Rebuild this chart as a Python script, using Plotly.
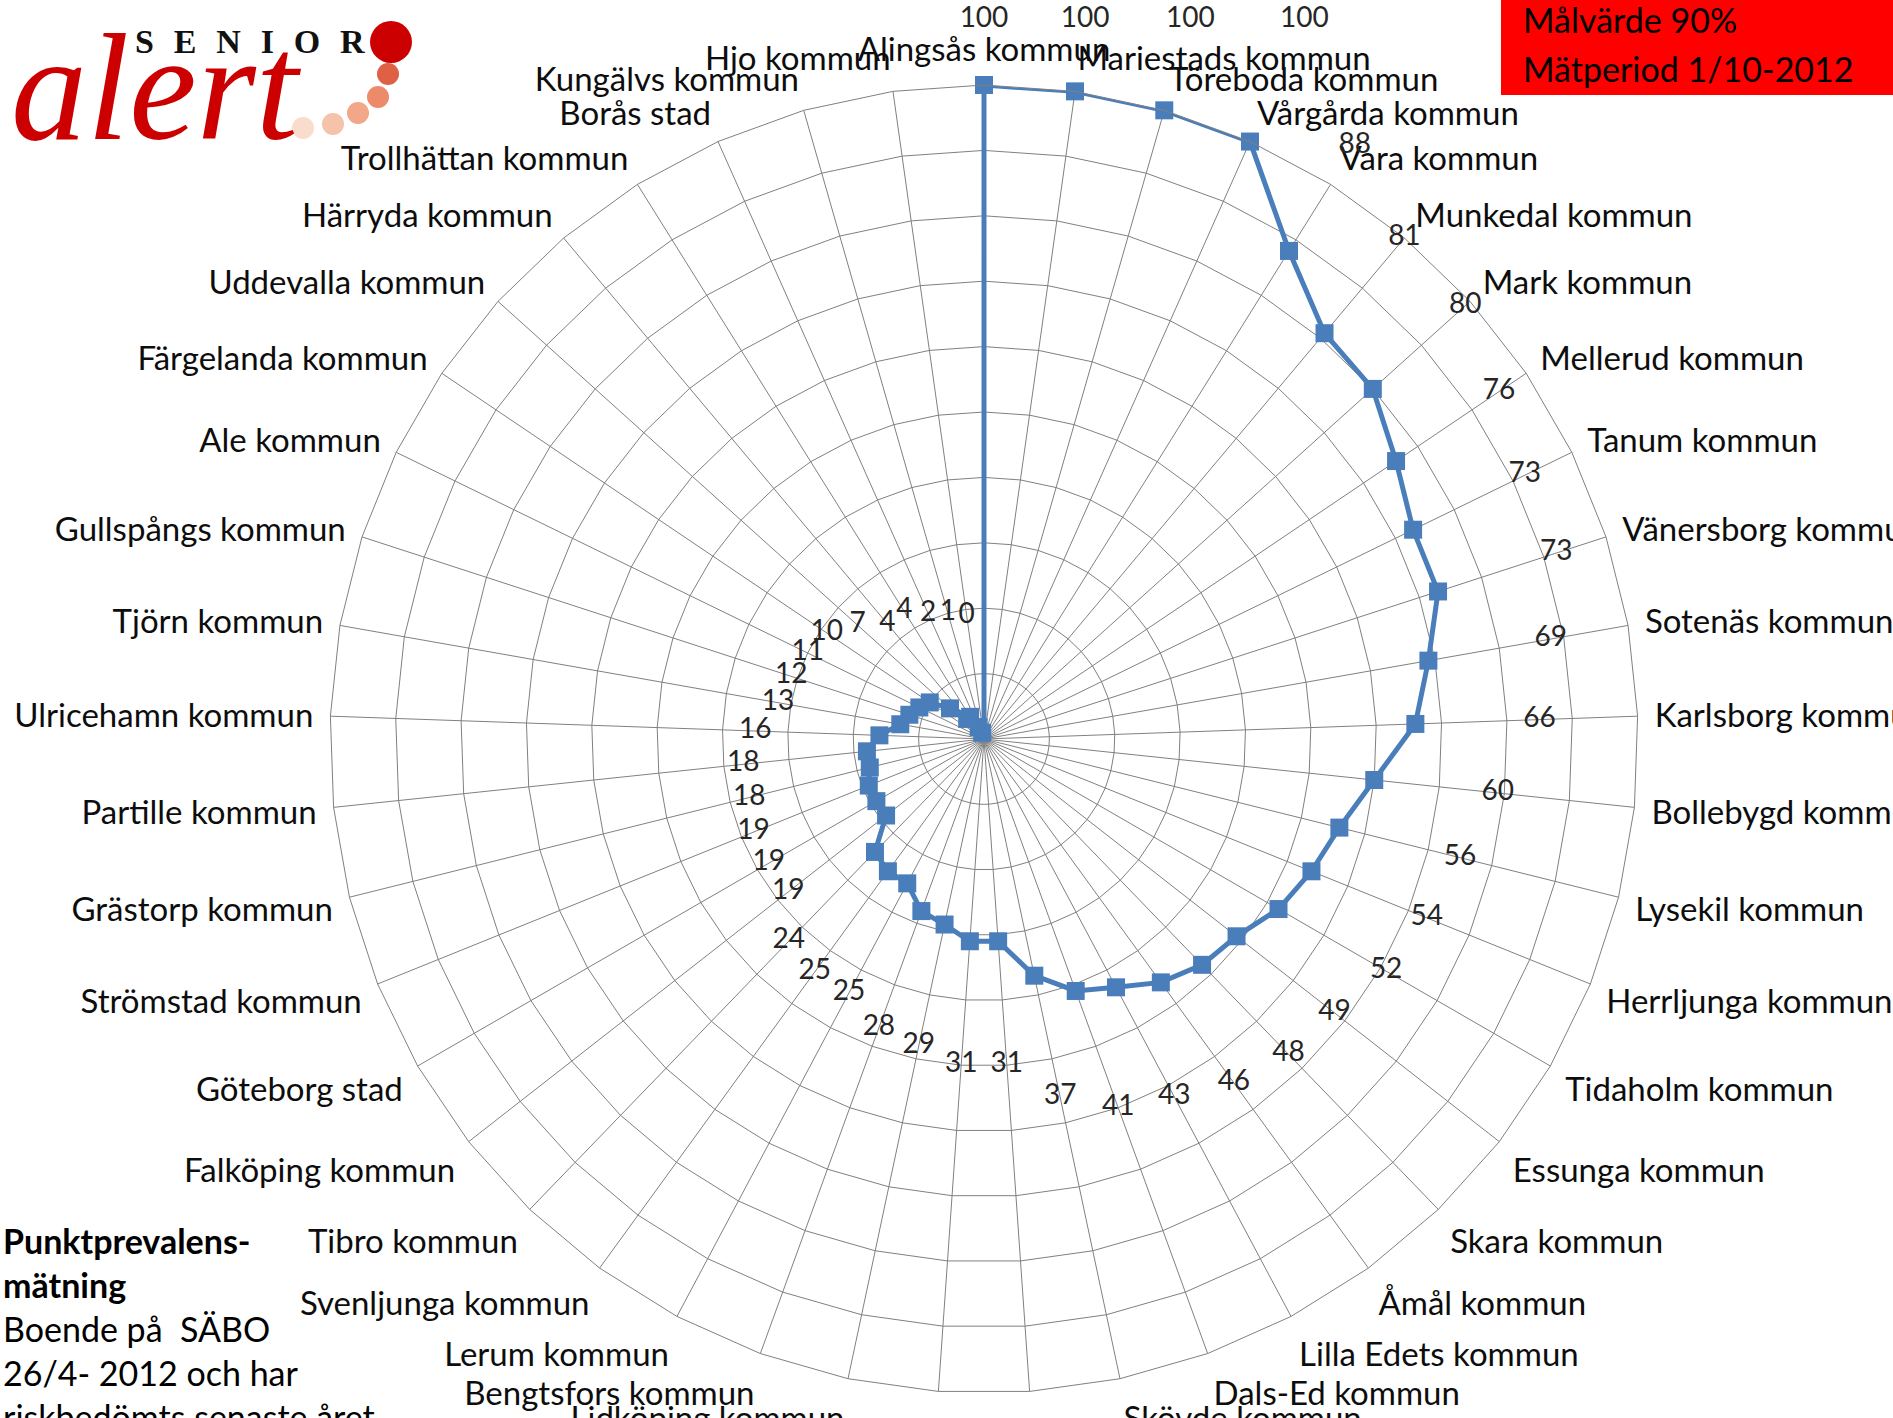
import math
import plotly.graph_objects as go

# kommuner medurs från toppen; två kategorier längst ned syns inte i bilden
KOMMUNER = [
    'Alingsås kommun', 'Mariestads kommun', 'Töreboda kommun', 'Vårgårda kommun',
    'Vara kommun', 'Munkedal kommun', 'Mark kommun', 'Mellerud kommun',
    'Tanum kommun', 'Vänersborg kommun', 'Sotenäs kommun', 'Karlsborg kommun',
    'Bollebygd kommun', 'Lysekil kommun', 'Herrljunga kommun', 'Tidaholm kommun',
    'Essunga kommun', 'Skara kommun', 'Åmål kommun', 'Lilla Edets kommun',
    'Dals-Ed kommun', 'Skövde kommun', ' ', '  ', 'Lidköping kommun',
    'Bengtsfors kommun', 'Lerum kommun', 'Svenljunga kommun', 'Tibro kommun',
    'Falköping kommun', 'Göteborg stad', 'Strömstad kommun', 'Grästorp kommun',
    'Partille kommun', 'Ulricehamn kommun', 'Tjörn kommun', 'Gullspångs kommun',
    'Ale kommun', 'Färgelanda kommun', 'Uddevalla kommun', 'Härryda kommun',
    'Trollhättan kommun', 'Borås stad', 'Kungälvs kommun', 'Hjo kommun',
]

ANDEL = [100, 100, 100, 100, 88, 81, 80, 76, 73, 73, 69, 66, 60, 56, 54, 52,
         49, 48, 46, 43, 41, 37, 31, 31, 29, 28, 25, 25, 24, 19, 19, 19, 18, 18,
         16, 13, 12, 11, 10, 7, 4, 4, 2, 1, 0]

MALVARDE_TEXT = ['Målvärde 90%', 'Mätperiod 1/10-2012']
INFO_TEXT = ['<b>Punktprevalens-</b>', '<b>mätning</b>', 'Boende på  SÄBO',
             '26/4- 2012 och har', 'riskbedömts senaste året']

BLUE = '#4A7EBB'
GRID = '#808080'
FONT = 'Lato'
W, H = 1893, 1418
CX, CY, R = 984, 739, 654          # diagrammets mittpunkt och radie i pixlar
K = R / 100                         # pixlar per procentenhet

angular = dict(rotation=90, direction='clockwise', type='category',
               categoryorder='array', categoryarray=KOMMUNER)
hidden_polar = dict(bgcolor='rgba(0,0,0,0)',
                    angularaxis=dict(**angular, showticklabels=False, ticks='',
                                     showline=False, showgrid=False))

# etiketterna ligger en bit utanför punkten; de översta läggs i en rad vid bildkanten
n = len(KOMMUNER)
lower = {'r': [], 'theta': [], 'text': []}
upper = {'r': [], 'theta': [], 'text': []}
extra = []
for i, v in enumerate(ANDEL):
    r = v + 19
    phi = i * 360 / n
    c = math.cos(math.radians(phi))
    if c > 0 and r * c > 105:
        r = 110 / c
    if c <= 0:
        d = lower
    elif r * K <= CY:
        d = upper
    else:
        # egen smal sektor så att etiketten får plats ovanför halvcirkeln
        a = 90 - phi
        d = {'r': [], 'theta': [], 'text': [], 'sector': [a - 2, a + 2]}
        extra.append(d)
    d['r'].append(r)
    d['theta'].append(KOMMUNER[i])
    d['text'].append(str(v))

fig = go.Figure()
fig.add_trace(go.Scatterpolar(
    r=ANDEL + ANDEL[:1], theta=KOMMUNER + KOMMUNER[:1],
    mode='lines+markers',
    line=dict(color=BLUE, width=5),
    marker=dict(symbol='square', size=18, color=BLUE),
    hoverinfo='skip'))

label_font = dict(family=FONT, size=28, color='#262626')
polars = {}
groups = [('polar', lower), ('polar2', upper)]
for k, d in enumerate(extra):
    groups.append(('polar%d' % (k + 3), d))
for name, d in groups:
    fig.add_trace(go.Scatterpolar(
        r=d['r'], theta=d['theta'], text=d['text'], mode='text',
        textfont=label_font, cliponaxis=False, hoverinfo='skip', subplot=name))
    if name == 'polar2':
        polars[name] = dict(hidden_polar,
                            domain=dict(x=[(CX - CY) / W, (CX + CY) / W], y=[1 - CY / H, 1.0]),
                            sector=[0, 180],
                            radialaxis=dict(range=[0, CY / K], visible=False))
    elif name != 'polar':
        s0, s1 = d['sector']
        rk = CY / math.sin(math.radians(s1))
        width = rk * math.cos(math.radians(s0))
        polars[name] = dict(hidden_polar,
                            domain=dict(x=[CX / W, (CX + width) / W], y=[1 - CY / H, 1.0]),
                            sector=[s0, s1],
                            radialaxis=dict(range=[0, rk / K], visible=False))


def px(x, y):
    return x / W, 1 - y / H


annotations = []
# röd ruta uppe till höger
for txt, y in zip(MALVARDE_TEXT, [20, 68]):
    xx, yy = px(1521, y)
    annotations.append(dict(x=xx, y=yy, xref='paper', yref='paper', text=txt,
                            showarrow=False, xanchor='left', yanchor='middle',
                            font=dict(family=FONT, size=34, color='black')))
# text nere till vänster
for i, txt in enumerate(INFO_TEXT):
    xx, yy = px(1, 1240 + i * 44)
    annotations.append(dict(x=xx, y=yy, xref='paper', yref='paper', text=txt,
                            showarrow=False, xanchor='left', yanchor='middle',
                            font=dict(family=FONT, size=34, color='black')))
# logotyp
xx, yy = px(9, 88)
annotations.append(dict(x=xx, y=yy, xref='paper', yref='paper', text='<i>alert</i>',
                        showarrow=False, xanchor='left', yanchor='middle',
                        font=dict(family='Liberation Serif', size=152, color='#CC0000')))
xx, yy = px(133, 42)
annotations.append(dict(x=xx, y=yy, xref='paper', yref='paper',
                        text='<b>' + '\u2002\u200a'.join('SENIOR') + '</b>',
                        showarrow=False, xanchor='left', yanchor='middle',
                        font=dict(family='Liberation Serif', size=34, color='#111111')))

shapes = [dict(type='rect', xref='paper', yref='paper', x0=1501 / W, x1=1.0,
               y0=1 - 95 / H, y1=1.0, fillcolor='#FF0000', line=dict(width=0), layer='below')]
dots = [(391, 42, 21, '#CC0000'), (388, 74, 11, '#E06045'), (378, 97, 11, '#EC8A6A'),
        (358, 113, 11, '#F2A888'), (333, 124, 11, '#F5C2AA'), (303, 128, 11, '#FADCCC')]
for cx, cy, rad, col in dots:
    shapes.append(dict(type='circle', xref='paper', yref='paper',
                       x0=(cx - rad) / W, x1=(cx + rad) / W,
                       y0=1 - (cy + rad) / H, y1=1 - (cy - rad) / H,
                       fillcolor=col, line=dict(width=0)))

fig.update_layout(
    width=W, height=H,
    margin=dict(l=0, r=0, t=0, b=0),
    paper_bgcolor='white',
    showlegend=False,
    annotations=annotations,
    shapes=shapes,
    polar=dict(
        domain=dict(x=[(CX - R) / W, (CX + R) / W], y=[1 - (CY + R) / H, 1 - (CY - R) / H]),
        bgcolor='white',
        gridshape='linear',
        radialaxis=dict(range=[0, 100], dtick=10, tick0=0, showticklabels=False,
                        ticks='', showline=False, gridcolor=GRID, gridwidth=1),
        angularaxis=dict(**angular,
                         gridcolor=GRID, gridwidth=1, showline=True, linecolor=GRID,
                         linewidth=1, ticks='outside', ticklen=10,
                         tickcolor='rgba(0,0,0,0)',
                         tickfont=dict(family=FONT, size=33, color='#0d0d0d')),
    ),
    **polars,
)

fig.write_html('out.html', config={'displayModeBar': False},
               post_script="document.body.style.margin = '0';")
